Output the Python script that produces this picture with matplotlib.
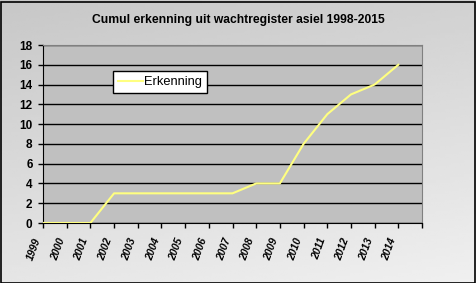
import matplotlib
matplotlib.use('Agg')
import matplotlib.pyplot as plt
import numpy as np

# data
years = ['1999', '2000', '2001', '2002', '2003', '2004', '2005', '2006',
         '2007', '2008', '2009', '2010', '2011', '2012', '2013', '2014']
erkenning = [0, 0, 0, 3, 3, 3, 3, 3, 3, 4, 4, 8, 11, 13, 14, 16]
yticks = [0, 2, 4, 6, 8, 10, 12, 14, 16, 18]

plt.rcParams['font.family'] = ['Liberation Sans', 'DejaVu Sans']

W, H = 476, 283
fig = plt.figure(figsize=(W / 100, H / 100), dpi=100)

# gradient background of the chart area
bg = fig.add_axes([0, 0, 1, 1])
gy, gx = np.mgrid[0:1:100j, 0:1:100j]
grad = 0.78 + 0.16 * (0.75 * gy + 0.25 * gx)
bg.imshow(grad, cmap='gray', vmin=0, vmax=1, aspect='auto',
          extent=[0, 1, 0, 1], origin='upper')
bg.set_xlim(0, 1)
bg.set_ylim(0, 1)
bg.axis('off')
fig.patches.append(plt.Rectangle((0.5 / W, 0.5 / H), 1 - 2 / W, 1 - 2 / H,
                                 transform=fig.transFigure, fill=False,
                                 edgecolor='black', linewidth=1.2))

# plot area: x 43..422, y 45..223 in pixels
x0, x1, y0, y1 = 43, 422, 45, 223
ax = fig.add_axes([x0 / W, 1 - y1 / H, (x1 - x0) / W, (y1 - y0) / H])
ax.set_facecolor('#c0c0c0')

x = np.arange(len(years))
ax.plot(x, erkenning, color='#ffff80', linewidth=1.5, label='Erkenning',
        zorder=3)

ax.set_xlim(0, len(years))
ax.set_ylim(0, 18)
ax.set_yticks(yticks)
ax.set_yticklabels([str(v) for v in yticks], fontsize=8.5, fontweight='bold')
ax.set_xticks(np.arange(len(years) + 1))
ax.set_xticklabels(years + [''], rotation=70, ha='right', va='top',
                   fontsize=7.5, fontweight='bold', style='italic')
ax.tick_params(axis='both', length=3.5, width=1, color='black')
ax.tick_params(axis='y', pad=4)
ax.tick_params(axis='x', pad=6)
ax.grid(axis='y', color='black', linewidth=1)
ax.set_axisbelow(True)
for s in ['top', 'right']:
    ax.spines[s].set_color('#808080')
for s in ['left', 'bottom']:
    ax.spines[s].set_color('black')

leg = ax.legend(loc='upper left', bbox_to_anchor=((113 - x0) / (x1 - x0), 1 - (71 - y0) / (y1 - y0)),
                frameon=True, fancybox=False, fontsize=9.3, handlelength=1.9,
                borderpad=0.4, handletextpad=0.1, borderaxespad=0)
leg.get_frame().set_edgecolor('black')
leg.get_frame().set_linewidth(1)
leg.get_frame().set_facecolor('white')
leg.get_frame().set_alpha(1)

fig.text(238 / W, 1 - 20 / H, 'Cumul erkenning uit wachtregister asiel 1998-2015',
         ha='center', va='center', fontsize=8.7, fontweight='bold')

fig.savefig('out.png', dpi=100)
